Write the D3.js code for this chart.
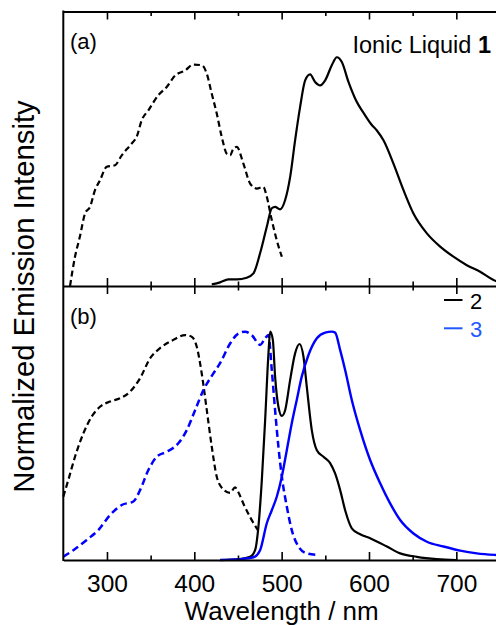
<!DOCTYPE html>
<html>
<head>
<meta charset="utf-8">
<script src="https://cdn.jsdelivr.net/npm/d3@7"></script>
<style>
  html, body { margin: 0; padding: 0; background: #ffffff; }
  svg { display: block; font-family: "Liberation Sans", Arial, sans-serif; }
</style>
</head>
<body>
<svg id="chart" width="496" height="625"></svg>
<script>
// Axis ticks (nm)
const majorTicks = [300, 400, 500, 600, 700];
const minorTicks = [350, 450, 550, 650, 750];
const tickLabels = ["300", "400", "500", "600", "700"];

// (a) Ionic liquid 1 — excitation (dashed)
const ex1Wl  = [257.7, 263.4, 269, 274.9, 280.6, 286.3, 292, 299.7, 309.2, 316.9, 328.3, 334, 339.8, 347.4, 358.8, 368.4, 378, 389.4, 398.9, 408.5, 414.3, 420, 425.7, 431.4, 437.2, 441, 444.7, 448.6, 456.2, 463.9, 471.5, 479.1, 483, 488.7, 494.4, 500.2];
const ex1Int = [0, 0.128, 0.216, 0.317, 0.346, 0.419, 0.462, 0.521, 0.528, 0.571, 0.623, 0.652, 0.725, 0.768, 0.834, 0.870, 0.920, 0.942, 0.968, 0.965, 0.928, 0.84, 0.754, 0.652, 0.578, 0.571, 0.600, 0.608, 0.535, 0.448, 0.426, 0.433, 0.39, 0.288, 0.200, 0.128];

// (a) Ionic liquid 1 — emission (solid)
const em1Wl  = [420, 429.5, 439, 448.6, 460, 467.7, 475.3, 483, 488.7, 492.5, 498.2, 504, 509.7, 515.4, 521.1, 526.9, 532.6, 538.3, 544, 549.8, 557.4, 563.2, 568.9, 576.5, 584.1, 595.6, 603, 609, 616.6, 628, 639.5, 650.9, 666.3, 681.5, 696.7, 712, 727.3, 742.6, 750];
const em1Int = [0.007, 0.016, 0.029, 0.029, 0.036, 0.055, 0.143, 0.259, 0.340, 0.346, 0.335, 0.376, 0.476, 0.637, 0.782, 0.899, 0.925, 0.892, 0.877, 0.899, 0.965, 1.0, 0.979, 0.892, 0.820, 0.746, 0.705, 0.680, 0.637, 0.535, 0.419, 0.317, 0.230, 0.172, 0.128, 0.091, 0.062, 0.026, 0.015];

// (b) Compound 2 — excitation (dashed)
const ex2Wl  = [250, 255.7, 263.4, 272.9, 282.5, 292, 303.5, 314.9, 326.4, 337.9, 349.3, 360.8, 376, 389.4, 397, 402.8, 408.5, 414.3, 420, 425.7, 433, 441, 446.7, 450, 457, 465, 473];
const ex2Int = [0.277, 0.350, 0.452, 0.554, 0.628, 0.671, 0.694, 0.708, 0.737, 0.796, 0.883, 0.928, 0.964, 0.985, 0.978, 0.934, 0.817, 0.656, 0.496, 0.365, 0.31, 0.294, 0.318, 0.30, 0.24, 0.18, 0.13];

// (b) Compound 3 — excitation (dashed)
const ex3Wl  = [250, 261.5, 276.8, 290.1, 303.5, 316.9, 330.2, 337.9, 347.4, 357, 368.4, 381.7, 391.4, 400.9, 410.4, 421.8, 429.5, 441, 450.5, 458.1, 465.8, 475.3, 481, 484.8, 488.7, 492.5, 496.3, 500.2, 505.9, 511.6, 519.2, 528.8, 540.3];
const ex3Int = [0.014, 0.043, 0.088, 0.131, 0.197, 0.241, 0.256, 0.306, 0.394, 0.452, 0.474, 0.511, 0.569, 0.656, 0.744, 0.817, 0.862, 0.948, 0.992, 1.0, 0.985, 0.942, 0.971, 0.985, 0.832, 0.656, 0.496, 0.365, 0.234, 0.131, 0.059, 0.029, 0.022];

// (b) Compound 2 — emission (solid)
const em2Wl  = [429.5, 452.4, 463.9, 469.6, 473.4, 477.3, 481.1, 484.9, 486.8, 489.9, 492.5, 496.3, 500.2, 504, 509.7, 515.4, 520.4, 525, 528.8, 534.5, 540.3, 547.9, 555.5, 561.2, 567, 572.7, 580.3, 589.9, 601.3, 620.5, 635.7, 654.8, 677.7, 700];
const em2Int = [0, 0.004, 0.014, 0.043, 0.146, 0.350, 0.613, 0.905, 1.0, 0.964, 0.803, 0.671, 0.631, 0.656, 0.788, 0.905, 0.946, 0.890, 0.758, 0.569, 0.481, 0.452, 0.424, 0.379, 0.306, 0.218, 0.139, 0.113, 0.095, 0.059, 0.029, 0.014, 0.004, 0];

// (b) Compound 3 — emission (solid)
const em3Wl  = [429.5, 452.4, 467.7, 475.3, 483, 488.7, 494.4, 500.2, 505.9, 511.6, 517.3, 523, 530.7, 540.3, 549.8, 557.4, 561.2, 567, 572.7, 580.3, 589.9, 601.3, 612.8, 624.2, 635.7, 650.9, 666.3, 685.3, 704.4, 723.5, 745.6, 750];
const em3Int = [0, 0.004, 0.012, 0.043, 0.161, 0.218, 0.277, 0.365, 0.481, 0.599, 0.701, 0.803, 0.898, 0.971, 0.996, 1.0, 0.996, 0.919, 0.832, 0.701, 0.569, 0.438, 0.336, 0.248, 0.175, 0.116, 0.080, 0.059, 0.041, 0.029, 0.022, 0.021];

const BLACK = "#000000";
const BLUE = "#0000ff";
const LEGEND_BLUE = "#2158ff";

const svg = d3.select("#chart");
const left = 63.3, right = 500;
const topA = 11.5, mid = 286, bottomB = 560;

const x = d3.scaleLinear().domain([250, 750]).range([left, right]);
const yA = d3.scaleLinear().domain([0, 1.2]).range([mid, topA]);
const yB = d3.scaleLinear().domain([0, 1.2]).range([bottomB, mid]);

const series = [
  { wl: ex1Wl, v: ex1Int, y: yA, color: BLACK, dash: "6,3.5", width: 2.2 },
  { wl: em1Wl, v: em1Int, y: yA, color: BLACK, dash: null, width: 2.2 },
  { wl: ex2Wl, v: ex2Int, y: yB, color: BLACK, dash: "6,3.5", width: 2.2 },
  { wl: ex3Wl, v: ex3Int, y: yB, color: BLUE, dash: "7,4", width: 2.5 },
  { wl: em2Wl, v: em2Int, y: yB, color: BLACK, dash: null, width: 2.2 },
  { wl: em3Wl, v: em3Int, y: yB, color: BLUE, dash: null, width: 2.4 }
];

series.forEach(s => {
  const line = d3.line()
    .x((d, i) => x(s.wl[i]))
    .y(d => s.y(d))
    .curve(d3.curveMonotoneX);
  svg.append("path")
    .attr("d", line(s.v))
    .attr("fill", "none")
    .attr("stroke", s.color)
    .attr("stroke-width", s.width)
    .attr("stroke-linejoin", "round")
    .attr("stroke-dasharray", s.dash);
});

// Axes: ticks point into the plotting areas
function styleAxis(g, keepDomain) {
  if (!keepDomain) g.select(".domain").remove();
  g.select(".domain").attr("stroke", BLACK).attr("stroke-width", 2);
  g.selectAll(".tick line").attr("stroke", BLACK).attr("stroke-width", 1.6);
}

// top frame
svg.append("g").attr("transform", `translate(0,${topA})`)
  .call(d3.axisTop(x).tickValues(majorTicks).tickSize(-8).tickSizeOuter(0).tickFormat(""))
  .call(g => styleAxis(g, true));
svg.append("g").attr("transform", `translate(0,${topA})`)
  .call(d3.axisTop(x).tickValues(minorTicks).tickSize(-4.5).tickFormat(""))
  .call(g => styleAxis(g, false));

// shared middle axis, ticks on both sides
[8, -8].forEach((len, i) => {
  svg.append("g").attr("transform", `translate(0,${mid})`)
    .call(d3.axisBottom(x).tickValues(majorTicks).tickSize(len).tickSizeOuter(0).tickFormat(""))
    .call(g => styleAxis(g, i === 0));
});
[4.5, -4.5].forEach(len => {
  svg.append("g").attr("transform", `translate(0,${mid})`)
    .call(d3.axisBottom(x).tickValues(minorTicks).tickSize(len).tickFormat(""))
    .call(g => styleAxis(g, false));
});

// bottom axis with labels
const bottomAxis = svg.append("g").attr("transform", `translate(0,${bottomB})`)
  .call(d3.axisBottom(x).tickValues(majorTicks).tickSize(-8).tickSizeOuter(0)
    .tickFormat((d, i) => tickLabels[i]))
  .call(g => styleAxis(g, true));
bottomAxis.selectAll(".tick text")
  .attr("y", 32.3).attr("dy", null)
  .attr("font-size", 24.5).attr("fill", BLACK)
  .attr("font-family", "'Liberation Sans', Arial, sans-serif");
svg.append("g").attr("transform", `translate(0,${bottomB})`)
  .call(d3.axisBottom(x).tickValues(minorTicks).tickSize(-4.5).tickFormat(""))
  .call(g => styleAxis(g, false));

// left frame line
svg.append("line")
  .attr("x1", left).attr("x2", left)
  .attr("y1", topA - 1).attr("y2", bottomB + 1)
  .attr("stroke", BLACK).attr("stroke-width", 2);

// axis titles
svg.append("text")
  .attr("transform", "translate(34,296.5) rotate(-90)")
  .attr("text-anchor", "middle")
  .attr("font-size", 29.3)
  .text("Normalized Emission Intensity");

svg.append("text")
  .attr("x", (left + right) / 2).attr("y", 620)
  .attr("text-anchor", "middle")
  .attr("font-size", 26)
  .text("Wavelength / nm");

// panel labels
svg.append("text").attr("x", 70).attr("y", 49).attr("font-size", 22).text("(a)");
svg.append("text").attr("x", 70).attr("y", 324).attr("font-size", 22).text("(b)");

const title = svg.append("text")
  .attr("x", 491).attr("y", 53.3)
  .attr("text-anchor", "end")
  .attr("font-size", 23.5);
title.append("tspan").text("Ionic Liquid ");
title.append("tspan").attr("font-weight", "bold").text("1");

// legend for panel (b)
const legend = [
  { label: "2", color: BLACK, text: BLACK, y: 300 },
  { label: "3", color: LEGEND_BLUE, text: LEGEND_BLUE, y: 328.3 }
];
legend.forEach(l => {
  svg.append("line")
    .attr("x1", 444).attr("x2", 462.5)
    .attr("y1", l.y).attr("y2", l.y)
    .attr("stroke", l.color).attr("stroke-width", 2);
  svg.append("text")
    .attr("x", 470).attr("y", l.y + 9)
    .attr("font-size", 22)
    .attr("fill", l.text)
    .text(l.label);
});
</script>
</body>
</html>
